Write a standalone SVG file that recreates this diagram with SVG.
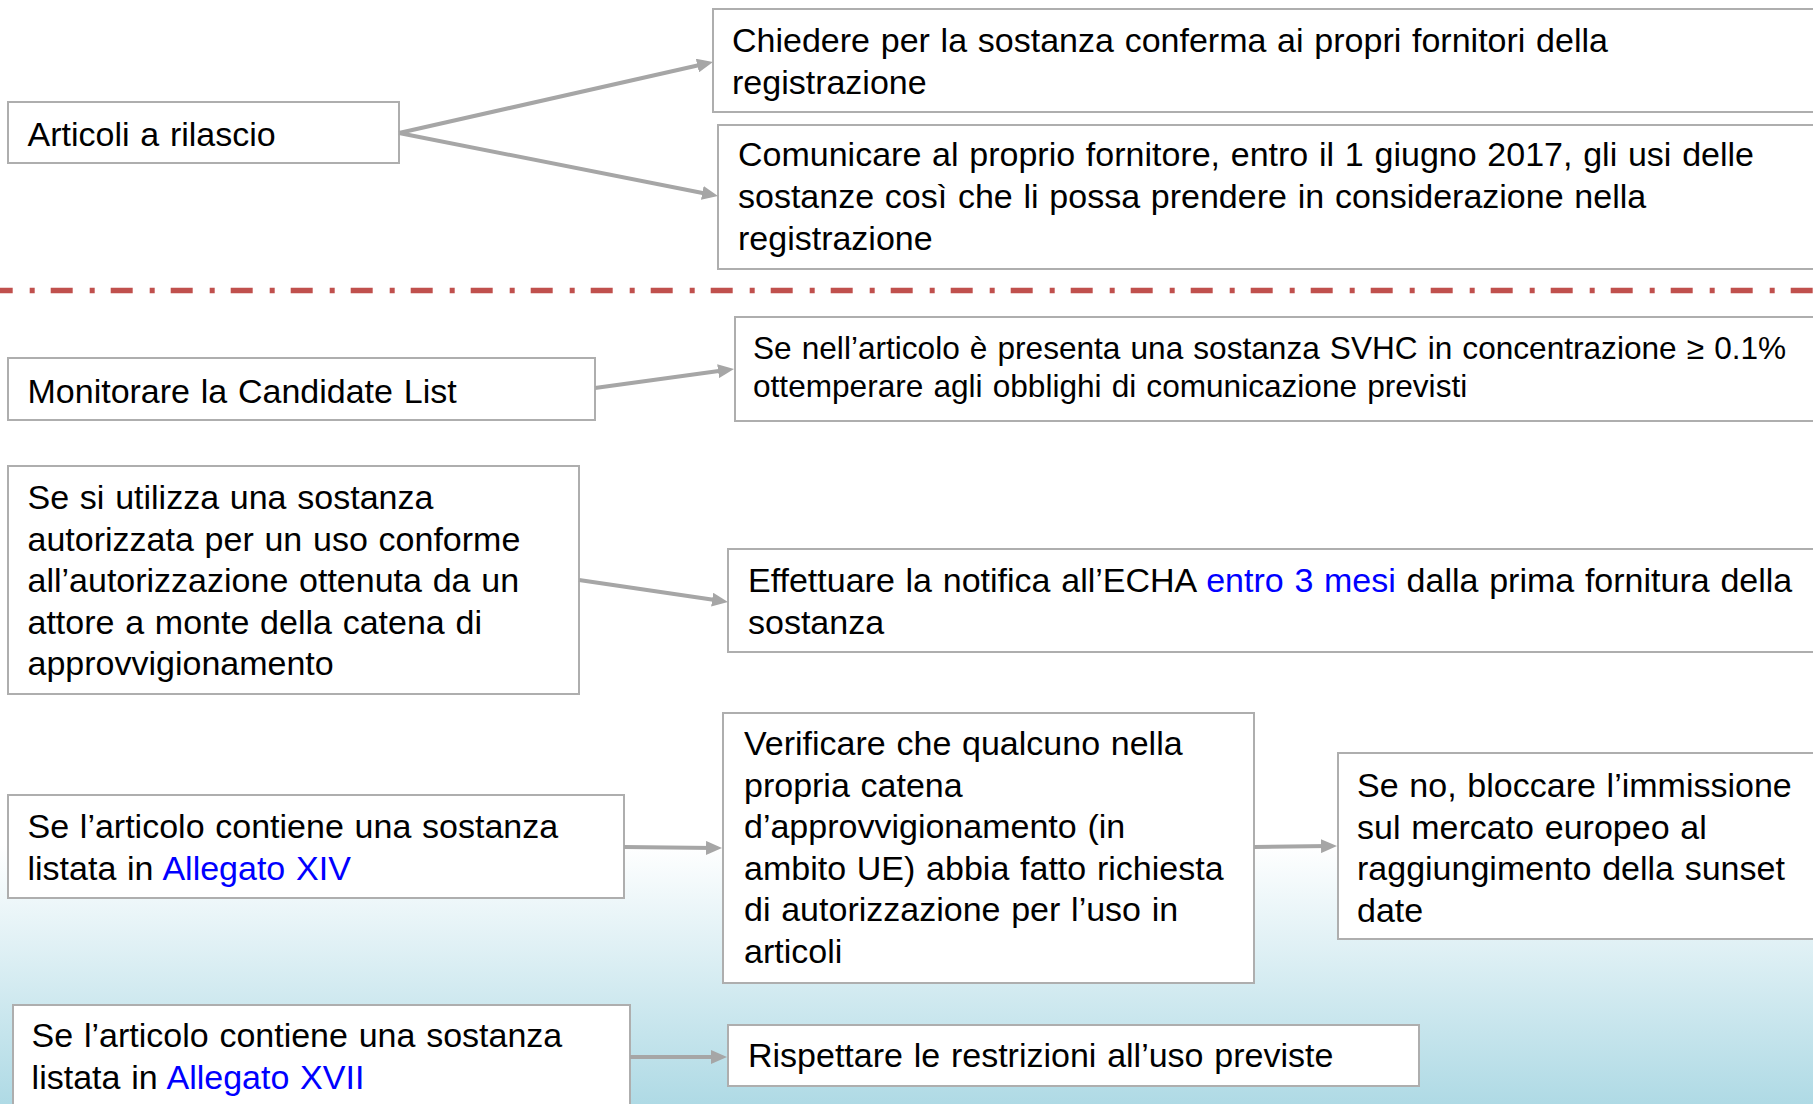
<svg xmlns="http://www.w3.org/2000/svg" width="1813" height="1104" viewBox="0 0 1813 1104">
<defs>
<linearGradient id="bg" x1="0" y1="845" x2="0" y2="1104" gradientUnits="userSpaceOnUse">
<stop offset="0" stop-color="#FFFFFF"/>
<stop offset="1" stop-color="#AFDAE5"/>
</linearGradient>
<marker id="ah" markerUnits="userSpaceOnUse" markerWidth="16" markerHeight="14" refX="8" refY="7" orient="auto" viewBox="0 0 16 14">
<path d="M0,0 L16,7 L0,14 z" fill="#A6A6A6"/>
</marker>
<style>
.box{fill:#FFFFFF;stroke:#AEAEAE;stroke-width:2}
.t{font-family:"Liberation Sans",Arial,sans-serif;font-size:34px;fill:#000000;word-spacing:1.3px}
.s{font-size:31.6px}
.b{fill:#0000FF}
.c{stroke:#A6A6A6;stroke-width:4;fill:none;marker-end:url(#ah)}
</style>
</defs>
<rect x="0" y="0" width="1813" height="1104" fill="#FFFFFF"/>
<rect x="0" y="845" width="1813" height="259" fill="url(#bg)"/>
<line x1="0" y1="290.5" x2="1813" y2="290.5" stroke="#C0504D" stroke-width="5.5" stroke-dasharray="22 17 5 16" stroke-dashoffset="9.3"/>

<g id="n-articoli">
<rect class="box" x="8" y="102" width="391" height="61"/>
<text class="t" x="27.5" y="146">Articoli a rilascio</text>
</g>
<g id="n-chiedere">
<rect class="box" x="713" y="9" width="1120" height="103"/>
<text class="t" x="732" y="52">Chiedere per la sostanza conferma ai propri fornitori della</text>
<text class="t" x="732" y="94">registrazione</text>
</g>
<g id="n-comunicare">
<rect class="box" x="718" y="125" width="1115" height="144"/>
<text class="t" x="738" y="166">Comunicare al proprio fornitore, entro il 1 giugno 2017, gli usi delle</text>
<text class="t" x="738" y="208">sostanze così che li possa prendere in considerazione nella</text>
<text class="t" x="738" y="250">registrazione</text>
</g>
<g id="n-monitorare">
<rect class="box" x="8" y="358" width="587" height="62"/>
<text class="t" x="27.5" y="403">Monitorare la Candidate List</text>
</g>
<g id="n-svhc">
<rect class="box" x="735" y="317" width="1098" height="104"/>
<text class="t s" x="753" y="359">Se nell’articolo è presenta una sostanza SVHC in concentrazione ≥ 0.1%</text>
<text class="t s" x="753" y="397">ottemperare agli obblighi di comunicazione previsti</text>
</g>
<g id="n-autorizzata">
<rect class="box" x="8" y="466" width="571" height="228"/>
<text class="t" x="27.5" y="509">Se si utilizza una sostanza</text>
<text class="t" x="27.5" y="550.5">autorizzata per un uso conforme</text>
<text class="t" x="27.5" y="592">all’autorizzazione ottenuta da un</text>
<text class="t" x="27.5" y="633.5">attore a monte della catena di</text>
<text class="t" x="27.5" y="675">approvvigionamento</text>
</g>
<g id="n-notifica">
<rect class="box" x="728" y="549" width="1105" height="103"/>
<text class="t" x="748" y="592">Effettuare la notifica all’ECHA <tspan class="b">entro 3 mesi</tspan> dalla prima fornitura della</text>
<text class="t" x="748" y="633.5">sostanza</text>
</g>
<g id="n-allegato14">
<rect class="box" x="8" y="795" width="616" height="103"/>
<text class="t" x="27.5" y="838">Se l’articolo contiene una sostanza</text>
<text class="t" x="27.5" y="880">listata in <tspan class="b">Allegato XIV</tspan></text>
</g>
<g id="n-verificare">
<rect class="box" x="723" y="713" width="531" height="270"/>
<text class="t" x="744" y="755">Verificare che qualcuno nella</text>
<text class="t" x="744" y="796.5">propria catena</text>
<text class="t" x="744" y="838">d’approvvigionamento (in</text>
<text class="t" x="744" y="879.5">ambito UE) abbia fatto richiesta</text>
<text class="t" x="744" y="921">di autorizzazione per l’uso in</text>
<text class="t" x="744" y="962.5">articoli</text>
</g>
<g id="n-sunset">
<rect class="box" x="1338" y="753" width="495" height="186"/>
<text class="t" x="1357" y="797">Se no, bloccare l’immissione</text>
<text class="t" x="1357" y="838.5">sul mercato europeo al</text>
<text class="t" x="1357" y="880">raggiungimento della sunset</text>
<text class="t" x="1357" y="921.5">date</text>
</g>
<g id="n-allegato17">
<rect class="box" x="13" y="1005" width="617" height="120"/>
<text class="t" x="31.6" y="1047">Se l’articolo contiene una sostanza</text>
<text class="t" x="31.6" y="1088.5">listata in <tspan class="b">Allegato XVII</tspan></text>
</g>
<g id="n-restrizioni">
<rect class="box" x="728" y="1025" width="691" height="61"/>
<text class="t" x="748" y="1067">Rispettare le restrizioni all’uso previste</text>
</g>

<g id="connectors">
<line class="c" x1="399" y1="133" x2="705.2" y2="63.8"/>
<line class="c" x1="399" y1="133" x2="710.15" y2="194.45"/>
<line class="c" x1="595" y1="388" x2="726.07" y2="370.08"/>
<line class="c" x1="579" y1="580" x2="720.09" y2="600.83"/>
<line class="c" x1="624" y1="847" x2="714" y2="848"/>
<line class="c" x1="1254" y1="847" x2="1329" y2="846"/>
<line class="c" x1="630" y1="1057" x2="719" y2="1057"/>
</g>
</svg>
